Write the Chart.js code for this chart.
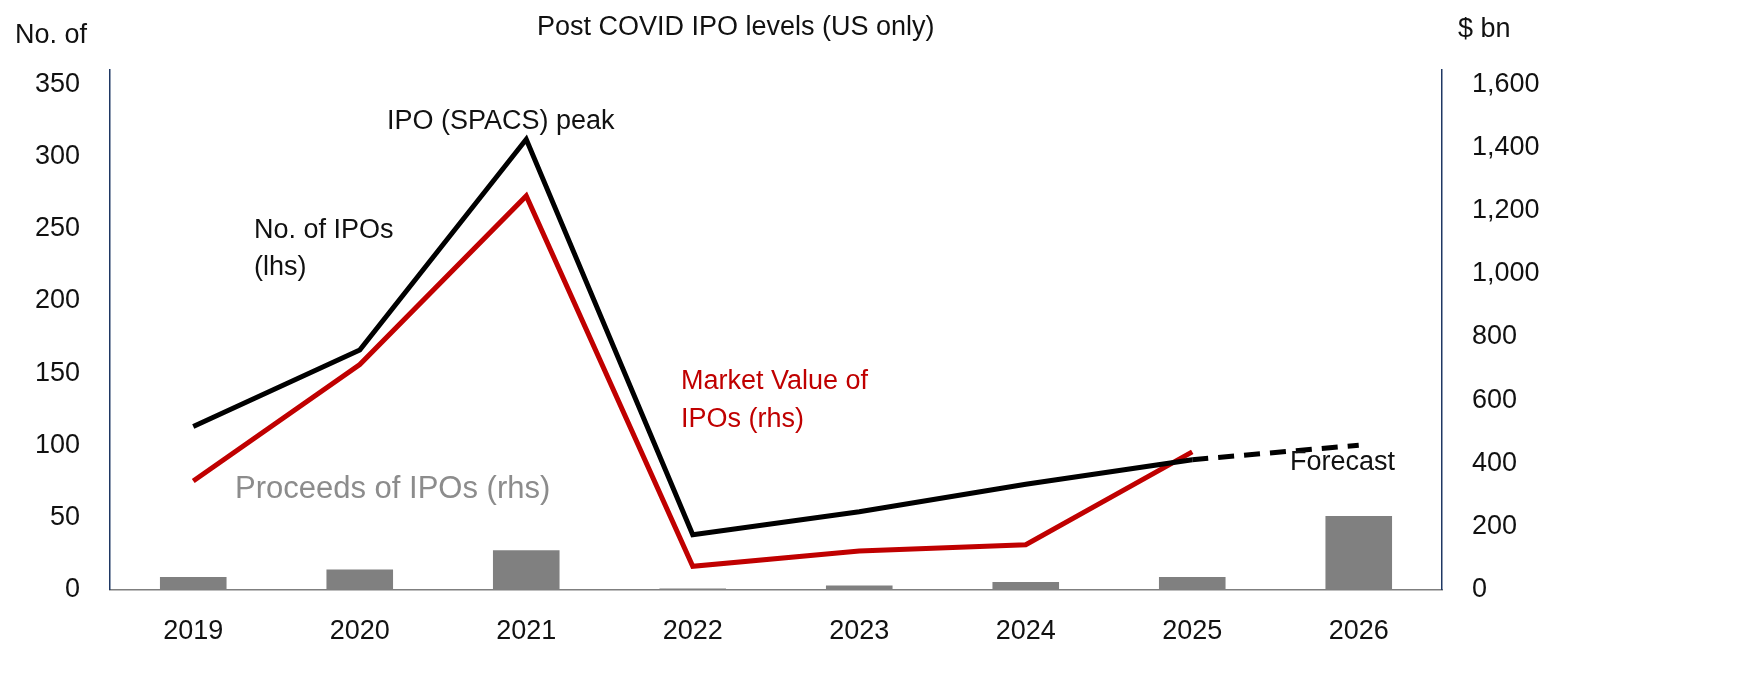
<!DOCTYPE html>
<html><head><meta charset="utf-8">
<script src="https://cdn.jsdelivr.net/npm/chart.js@4"></script>
<style>html,body{margin:0;background:#fff}#wrap{width:1750px;height:686px}</style>
</head><body><div id="wrap"><canvas id="c" width="1750" height="686"></canvas></div>
<script>
const years = ['2019','2020','2021','2022','2023','2024','2025','2026'];
const numIPOs = [113, 166, 312, 38, 54, 73, 90, 100];
const marketValue = [344, 713, 1247, 74, 122, 142, 436, null];
const proceeds = [40, 64, 125, 3, 13, 24, 40, 233];
const leftTicks = [0, 50, 100, 150, 200, 250, 300, 350];
const rightTicks = [0, 200, 400, 600, 800, 1000, 1200, 1400, 1600];

const FONT = 'Liberation Sans';
const notes = [
  { text: 'IPO (SPACS) peak', x: 387, y: 122, color: '#111' },
  { text: 'No. of IPOs', x: 254, y: 231, color: '#111' },
  { text: '(lhs)', x: 254, y: 268, color: '#111' },
  { text: 'Market Value of', x: 681, y: 382, color: '#c00000' },
  { text: 'IPOs (rhs)', x: 681, y: 420, color: '#c00000' },
  { text: 'Proceeds of IPOs (rhs)', x: 235, y: 489, color: '#8c8c8c', size: 31 },
  { text: 'Forecast', x: 1290, y: 463, color: '#111' },
  { text: 'Post COVID IPO levels (US only)', x: 537, y: 28, color: '#111' },
  { text: 'No. of', x: 15, y: 36, color: '#111' },
  { text: '$ bn', x: 1458, y: 30, color: '#111' }
];

const notePlugin = {
  id: 'notes',
  afterDraw(chart) {
    const ctx = chart.ctx;
    ctx.save();
    ctx.textBaseline = 'middle';
    ctx.textAlign = 'left';
    notes.forEach(n => {
      ctx.font = (n.size || 27) + 'px ' + FONT;
      ctx.fillStyle = n.color;
      ctx.fillText(n.text, n.x, n.y);
    });
    ctx.restore();
  }
};

new Chart(document.getElementById('c'), {
  data: {
    labels: years,
    datasets: [
      { type: 'line', data: numIPOs, yAxisID: 'y', borderColor: '#000', borderWidth: 5,
        pointRadius: 0, tension: 0, order: 1,
        segment: { borderDash: s => s.p0DataIndex === 6 ? [16, 10] : undefined } },
      { type: 'line', data: marketValue, yAxisID: 'y1', borderColor: '#c00000', borderWidth: 5,
        pointRadius: 0, tension: 0, order: 2 },
      { type: 'bar', data: proceeds, yAxisID: 'y1', backgroundColor: '#808080',
        categoryPercentage: 0.4, barPercentage: 1, minBarLength: 1, order: 3 }
    ]
  },
  options: {
    responsive: false, animation: false,
    layout: { padding: { top: 70, bottom: 20 } },
    plugins: { legend: { display: false }, tooltip: { enabled: false } },
    scales: {
      x: { offset: true, grid: { display: false }, border: { color: '#7f7f7f', width: 1.5 },
        ticks: { color: '#111', font: { family: FONT, size: 27 }, padding: 18 } },
      y: { position: 'left', min: 0, max: 360, grid: { display: false },
        border: { color: '#1f3864', width: 1.5 },
        afterFit: s => { s.width = 110; },
        afterBuildTicks: s => { s.ticks = leftTicks.map(v => ({ value: v })); },
        ticks: { color: '#111', font: { family: FONT, size: 27 }, padding: 22 } },
      y1: { position: 'right', min: 0, max: 1645.7, grid: { display: false },
        border: { color: '#1f3864', width: 1.5 },
        afterFit: s => { s.width = 308; },
        afterBuildTicks: s => { s.ticks = rightTicks.map(v => ({ value: v })); },
        ticks: { color: '#111', font: { family: FONT, size: 27 }, padding: 22,
          callback: v => v.toLocaleString('en-US') } }
    }
  },
  plugins: [notePlugin]
});
</script></body></html>
